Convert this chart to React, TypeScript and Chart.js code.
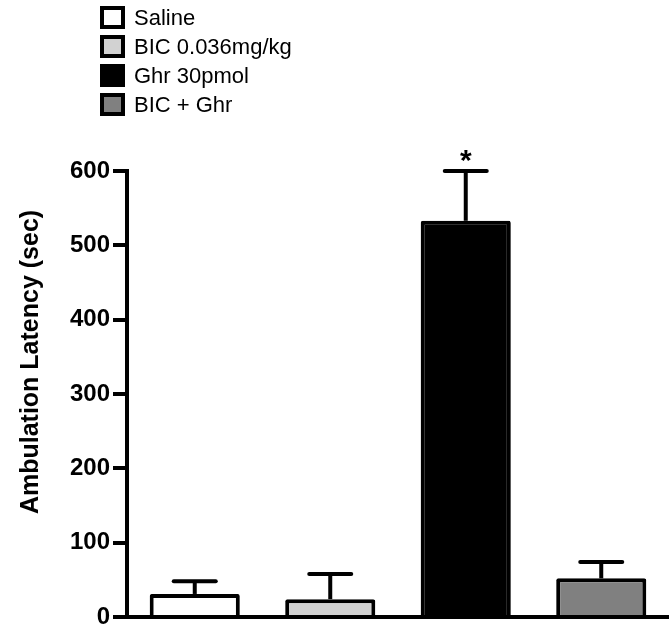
import React, { useEffect, useRef } from "react";
import { Chart, registerables } from "chart.js";

Chart.register(...registerables);

const categories = ["Saline", "BIC 0.036mg/kg", "Ghr 30pmol", "BIC + Ghr"];
const means = [31, 24, 533, 52];
const errors = [17, 34, 67, 22];
const fills = ["#ffffff", "#d2d2d2", "#000000", "#808080"];
const significance = ["", "", "*", ""];
const yTicks = [0, 100, 200, 300, 400, 500, 600];
const yTitle = "Ambulation Latency (sec)";

const FONT = "'Liberation Sans', Arial, Helvetica, sans-serif";

const overlayPlugin = {
  id: "overlay",
  afterDatasetsDraw(chart: any) {
    const ctx = chart.ctx;
    const meta = chart.getDatasetMeta(0);
    const yScale = chart.scales.y;
    ctx.save();
    ctx.strokeStyle = "#000";
    ctx.fillStyle = "#000";
    meta.data.forEach((bar: any, i: number) => {
      const x = bar.x;
      const yTop = yScale.getPixelForValue(means[i]);
      const yErr = yScale.getPixelForValue(means[i] + errors[i]);
      ctx.lineWidth = 4;
      ctx.lineCap = "butt";
      ctx.beginPath();
      ctx.moveTo(x, yTop);
      ctx.lineTo(x, yErr);
      ctx.stroke();
      ctx.lineCap = "round";
      ctx.beginPath();
      ctx.moveTo(x - 21, yErr);
      ctx.lineTo(x + 21, yErr);
      ctx.stroke();
      if (significance[i]) {
        ctx.font = `bold 30px ${FONT}`;
        ctx.textAlign = "center";
        ctx.textBaseline = "alphabetic";
        ctx.fillText(significance[i], x, yErr - 1);
      }
    });
    ctx.save();
    ctx.translate(38, 362);
    ctx.rotate(-Math.PI / 2);
    ctx.font = `bold 25px ${FONT}`;
    ctx.textAlign = "center";
    ctx.textBaseline = "alphabetic";
    ctx.fillText(yTitle, 0, 0);
    ctx.restore();
    ctx.restore();
  },
};

export default function App() {
  const ref = useRef<HTMLCanvasElement>(null);
  useEffect(() => {
    if (!ref.current) return;
    const chart = new Chart(ref.current, {
      type: "bar",
      data: {
        labels: categories,
        datasets: [
          {
            data: means,
            backgroundColor: fills,
            borderColor: "#000",
            borderWidth: 4,
            borderRadius: 2,
            categoryPercentage: 1,
            barPercentage: 0.665,
          },
        ],
      },
      options: {
        responsive: false,
        animation: false,
        layout: { padding: { top: 171, bottom: 11, left: 0, right: 0 } },
        plugins: {
          legend: { display: false },
          tooltip: { enabled: false },
        },
        scales: {
          x: {
            grid: { display: false },
            ticks: { display: false },
            border: { display: true, color: "#000", width: 4 },
            afterFit: (s: any) => {
              s.height = 0;
              s.paddingLeft = 0;
              s.paddingRight = 0;
            },
          },
          y: {
            min: 0,
            max: 600,
            afterBuildTicks: (s: any) => {
              s.ticks = yTicks.map((v) => ({ value: v }));
            },
            grid: {
              display: true,
              drawOnChartArea: false,
              drawTicks: true,
              tickLength: 14,
              color: "#000",
              lineWidth: 4,
            },
            border: { display: true, color: "#000", width: 4 },
            ticks: {
              color: "#000",
              padding: 3,
              font: { family: FONT, size: 24, weight: "bold" },
            },
            afterFit: (s: any) => {
              s.width = 127;
              s.paddingTop = 0;
              s.paddingBottom = 0;
            },
          },
        },
      },
      plugins: [overlayPlugin],
    });
    return () => chart.destroy();
  }, []);

  return (
    <div style={{ position: "absolute", left: 0, top: 0, width: 669, height: 628, background: "#fff" }}>
      <canvas ref={ref} width={669} height={628} style={{ display: "block" }} />
      <div style={{ position: "absolute", left: 100, top: 3 }}>
        {categories.map((c, i) => (
          <div key={c} style={{ display: "flex", alignItems: "center", height: 29 }}>
            <div
              style={{
                width: 25,
                height: 23,
                boxSizing: "border-box",
                border: "4px solid #000",
                background: fills[i],
              }}
            />
            <span
              style={{
                marginLeft: 9,
                fontFamily: FONT,
                fontSize: 22,
                color: "#000",
                lineHeight: "29px",
              }}
            >
              {c}
            </span>
          </div>
        ))}
      </div>
    </div>
  );
}
